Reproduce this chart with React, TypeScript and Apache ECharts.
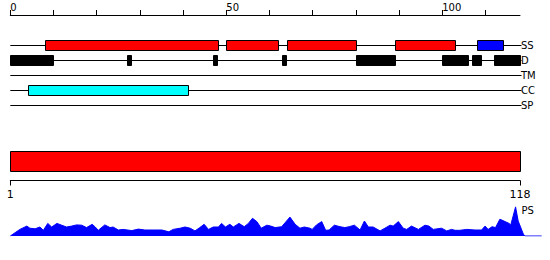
import React, { useEffect, useRef } from "react";
import * as echarts from "echarts";

// Track names (top panel)
const tracks = ["SS", "D", "TM", "CC", "SP"];
// Feature ranges [start, end] on the 0..118 scale
const ssHelix = [[8, 48], [50, 62], [64, 80], [89, 103]];
const ssStrand = [[108, 114]];
const disorder = [[0, 10], [27, 28], [47, 48], [63, 64], [80, 89], [100, 106], [107, 109], [112, 118]];
const coiledCoil = [[4, 41]];
const seqLength = 118;
const topTickValues = [0, 10, 20, 30, 40, 50, 60, 70, 80, 90, 100, 110];
const topLabelValues = [0, 50, 100];
const bottomLabelValues = [1, 118];

// PS profile: residue positions and scores
const psResidue = [1, 2.1, 3.2, 4.8, 5.5, 6.7, 7.8, 8.6, 9.6, 10.5, 11.7, 12.8, 13.9, 15.1, 16.2, 17.4, 18.5, 19.8, 20.5, 21.2, 22.7, 23.9, 24.6, 25.8, 26.9, 28.9, 30.4, 31.9, 33.8, 35.8, 37.4, 38.4, 40, 41.1, 42.3, 43.4, 44.5, 45.5, 46.5, 47.6, 48.8, 49.5, 50.4, 51.4, 52.2, 53.5, 54.7, 55.6, 56.6, 57.6, 58.6, 59.9, 60.8, 61.8, 63.3, 65.2, 66.4, 67.5, 68.5, 69.8, 70.3, 71.3, 72.5, 73.4, 74.2, 75.4, 76.7, 77.8, 78.8, 80, 81.3, 82.3, 83.2, 84.3, 85.9, 87, 88.2, 88.9, 90.1, 91.2, 92, 93.1, 94.7, 96.2, 97.1, 98.1, 100, 101.2, 102.3, 103.1, 104.2, 105.8, 107.7, 109.2, 110, 110.7, 111.6, 112.4, 113.4, 114.6, 115.5, 115.9, 117, 117.6, 118.8, 119.2, 123];
const psScore = [0, 0.11, 0.22, 0.33, 0.26, 0.24, 0.3, 0.19, 0.42, 0.3, 0.42, 0.36, 0.3, 0.33, 0.37, 0.36, 0.28, 0.39, 0.3, 0.19, 0.37, 0.28, 0.3, 0.2, 0.22, 0.18, 0.23, 0.2, 0.2, 0.2, 0.14, 0.22, 0.26, 0.3, 0.26, 0.17, 0.28, 0.39, 0.22, 0.3, 0.3, 0.42, 0.3, 0.39, 0.3, 0.42, 0.31, 0.41, 0.59, 0.48, 0.26, 0.36, 0.33, 0.28, 0.31, 0.63, 0.39, 0.26, 0.3, 0.26, 0.22, 0.37, 0.48, 0.19, 0.2, 0.36, 0.31, 0.28, 0.31, 0.36, 0.2, 0.5, 0.3, 0.3, 0.17, 0.26, 0.36, 0.33, 0.48, 0.26, 0.22, 0.33, 0.22, 0.36, 0.33, 0.22, 0.26, 0.17, 0.22, 0.19, 0.19, 0.22, 0.2, 0.2, 0.33, 0.22, 0.31, 0.28, 0.56, 0.48, 0.42, 0.37, 0.97, 0.5, 0.06, 0, 0];

const FONT = "DejaVu Sans";

function boxSeries(name: string, ranges: number[][], track: number, color: string, stroke: string) {
  return {
    name,
    type: "custom",
    xAxisIndex: 0,
    yAxisIndex: 0,
    data: ranges.map((r) => [r[0], r[1], track]),
    encode: { x: [0, 1], y: 2 },
    itemStyle: { color },
    renderItem: (params: any, api: any) => {
      const s = api.coord([api.value(0), api.value(2)]);
      const e = api.coord([api.value(1), api.value(2)]);
      const h = Math.abs(api.size([0, 2 / 3])[1]);
      return {
        type: "rect",
        shape: { x: Math.round(s[0]) + 0.5, y: Math.round(s[1] - h / 2) + 0.5, width: Math.round(e[0] - s[0]), height: Math.round(h) },
        style: { fill: color, stroke, lineWidth: 1 },
      };
    },
  };
}

export default function App() {
  const ref = useRef<HTMLDivElement>(null);
  useEffect(() => {
    if (!ref.current) return;
    const chart = echarts.init(ref.current, undefined, { renderer: "svg" });
    const option: any = {
      animation: false,
      backgroundColor: "#ffffff",
      textStyle: { fontFamily: FONT, color: "#000" },
      grid: [
        { left: 10.3, right: 30, top: 15, height: 105 },
        { left: 10.3, right: 30, top: 140.5, height: 40 },
        { left: 10.3, right: 8.3, top: 206, height: 30 },
      ],
      xAxis: [
        {
          gridIndex: 0, type: "value", position: "top", min: 0, max: seqLength,
          axisLine: { show: true, onZero: false, lineStyle: { color: "#000", width: 1 } },
          axisTick: { show: true, length: 5, inside: false, customValues: topTickValues, lineStyle: { color: "#000" } },
          axisLabel: { show: true, customValues: topLabelValues, align: "left", margin: 3, fontSize: 10, fontFamily: FONT, color: "#000" },
          splitLine: { show: false },
        },
        {
          gridIndex: 1, type: "value", position: "bottom", min: 1, max: seqLength,
          axisLine: { show: true, onZero: false, lineStyle: { color: "#000", width: 1 } },
          axisTick: { show: true, length: 5, inside: false, customValues: bottomLabelValues, lineStyle: { color: "#000" } },
          axisLabel: { show: true, customValues: bottomLabelValues, margin: 8, fontSize: 11, fontFamily: FONT, color: "#000" },
          splitLine: { show: false },
        },
        { gridIndex: 2, type: "value", min: 1, max: 123, show: false },
      ],
      yAxis: [
        {
          gridIndex: 0, type: "value", min: -2, max: 5, interval: 1, inverse: true, position: "right",
          axisLine: { show: false, onZero: false }, axisTick: { show: false }, splitLine: { show: false },
          axisLabel: {
            show: true, margin: 1, fontSize: 10, fontFamily: FONT, color: "#000",
            formatter: (v: number) => (tracks[v] !== undefined ? tracks[v] : ""),
          },
        },
        { gridIndex: 1, type: "value", min: 0, max: 4, show: false },
        { gridIndex: 2, type: "value", min: 0, max: 1, show: false },
      ],
      series: [
        {
          name: "tracks",
          type: "custom",
          xAxisIndex: 0,
          yAxisIndex: 0,
          data: tracks.map((t, i) => [0, seqLength, i]),
          encode: { x: [0, 1], y: 2 },
          renderItem: (params: any, api: any) => {
            const s = api.coord([api.value(0), api.value(2)]);
            const e = api.coord([api.value(1), api.value(2)]);
            const y = Math.round(s[1]) + 0.5;
            return {
              type: "line",
              shape: { x1: s[0], y1: y, x2: e[0] + 1.5, y2: y },
              style: { stroke: "#000", lineWidth: 1 },
            };
          },
        },
        boxSeries("SS helix", ssHelix, 0, "#ff0000", "#000"),
        boxSeries("SS strand", ssStrand, 0, "#0000ff", "#000"),
        boxSeries("Disorder", disorder, 1, "#000000", "#000"),
        boxSeries("Coiled coil", coiledCoil, 3, "#00ffff", "#000"),
        {
          name: "protein",
          type: "custom",
          xAxisIndex: 1,
          yAxisIndex: 1,
          data: [[1, seqLength, 2]],
          encode: { x: [0, 1], y: 2 },
          renderItem: (params: any, api: any) => {
            const s = api.coord([api.value(0), api.value(2)]);
            const e = api.coord([api.value(1), api.value(2)]);
            const h = Math.abs(api.size([0, 2])[1]);
            return {
              type: "rect",
              shape: { x: Math.round(s[0]) + 0.5, y: Math.round(s[1] - h / 2) + 0.5, width: Math.round(e[0] - s[0]), height: Math.round(h) },
              style: { fill: "#ff0000", stroke: "#000", lineWidth: 1 },
            };
          },
        },
        {
          name: "PS",
          type: "line",
          xAxisIndex: 2,
          yAxisIndex: 2,
          data: psResidue.map((r, i) => [r, psScore[i]]),
          symbol: "none",
          lineStyle: { color: "#0000ff", width: 1 },
          areaStyle: { color: "#0000ff", opacity: 1 },
          itemStyle: { color: "#0000ff" },
        },
      ],
      graphic: [
        {
          type: "text", left: 521.5, top: 205,
          style: { text: "PS", fontSize: 10, fontFamily: FONT, fill: "#000" },
        },
      ],
    };
    chart.setOption(option);
    return () => chart.dispose();
  }, []);
  return <div ref={ref} style={{ position: "fixed", left: 0, top: 0, width: 550, height: 260 }} />;
}
